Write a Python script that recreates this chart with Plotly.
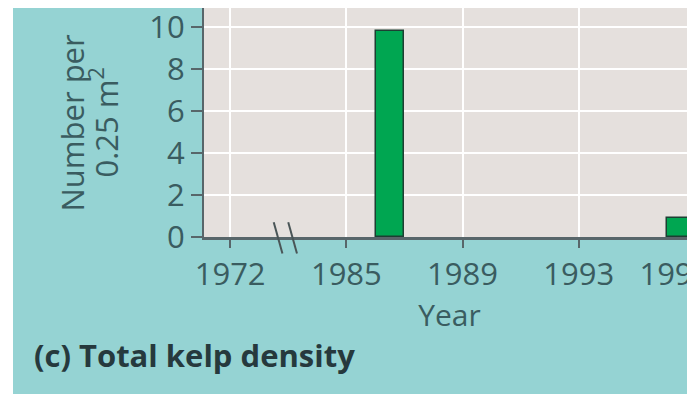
import plotly.graph_objects as go

# Data
years = [1987, 1997]
density = [9.8, 0.9]

# Axis (broken between 1972 and 1985: 1972 drawn four units before 1985)
tick_labels = ["1972", "1985", "1989", "1993", "1997"]
tick_positions = [1981, 1985, 1989, 1993, 1997]
y_ticks = [0, 2, 4, 6, 8, 10]

TEAL = "#95d3d3"
PLOT_BG = "#e5e0dd"
TEXT = "#3a5c60"
AXIS = "#58666a"
FONT = "Open Sans"

# last label sits slightly left of its tick in the original
tick_text = tick_labels[:-1] + [tick_labels[-1] + "\u00a0" * 5]

fig = go.Figure()
fig.add_trace(go.Bar(
    x=years, y=density,
    width=0.95, offset=-0.98,
    marker=dict(color="#00a651", line=dict(color="#1d3f33", width=1.5)),
    showlegend=False,
))

# page body has an 8px margin, so the figure is 8px smaller than the window
W, H = 687, 386
ml, mr, mt, mb = 196, 0, 0, 157

fig.update_layout(
    width=W, height=H,
    margin=dict(l=ml, r=mr, t=mt, b=mb, pad=0),
    paper_bgcolor=TEAL,
    plot_bgcolor=PLOT_BG,
    font=dict(family=FONT, color=TEXT, size=31),
    bargap=0,
    xaxis=dict(
        range=[1980.1, 1997.0],
        tickmode="array", tickvals=tick_positions, ticktext=tick_text,
        ticks="outside", ticklen=8, tickwidth=2, tickcolor=AXIS,
        showline=True, linecolor=AXIS, linewidth=3,
        showgrid=True, gridcolor="white", gridwidth=2,
        zeroline=False, automargin=False,
        ticklabeloverflow="allow",
        tickfont=dict(size=31, color=TEXT),
        title=dict(text="Year", font=dict(size=30, color=TEXT), standoff=2),
        fixedrange=True,
    ),
    yaxis=dict(
        range=[0, 10.9],
        tickmode="array", tickvals=y_ticks,
        ticks="outside", ticklen=11, tickwidth=2, tickcolor=AXIS,
        showline=True, linecolor=AXIS, linewidth=2,
        showgrid=True, gridcolor="white", gridwidth=2,
        zeroline=False, automargin=False,
        ticklabeloverflow="allow",
        tickfont=dict(size=31, color=TEXT),
        ticklabelstandoff=0,
        fixedrange=True,
    ),
)

plot_w = W - ml - mr
plot_h = H - mt - mb

def px_x(p):
    return (p - ml) / plot_w

def px_y(p):
    return (H - mb - p) / plot_h

# thin white strip on the left (crop border)
fig.add_shape(type="rect", xref="paper", yref="paper",
              x0=px_x(0), x1=px_x(5), y0=px_y(H), y1=px_y(0),
              fillcolor="white", line=dict(width=0), layer="below")

# axis break marks
for xa, xb in [(1982.5, 1982.8), (1983.0, 1983.3)]:
    fig.add_shape(type="line", xref="x", yref="y domain",
                  x0=xa, x1=xb, y0=0.064, y1=-0.072,
                  line=dict(color="#4a5557", width=2))

# y-axis title (two lines)
fig.add_annotation(xref="paper", yref="paper", x=px_x(63), y=0.5,
                   text="Number per", textangle=-90, showarrow=False,
                   font=dict(size=31, color=TEXT), xanchor="center", yanchor="middle")
fig.add_annotation(xref="paper", yref="paper", x=px_x(96), y=0.5,
                   text="0.25 m<sup>2</sup>", textangle=-90, showarrow=False,
                   font=dict(size=31, color=TEXT), xanchor="center", yanchor="middle")

# panel label
fig.add_annotation(xref="paper", yref="paper", x=px_x(24), y=px_y(347),
                   text="<b>(c) Total kelp density</b>", showarrow=False,
                   font=dict(size=31, color="#26393d", family=FONT),
                   xanchor="left", yanchor="middle")

fig.write_html("out.html")
